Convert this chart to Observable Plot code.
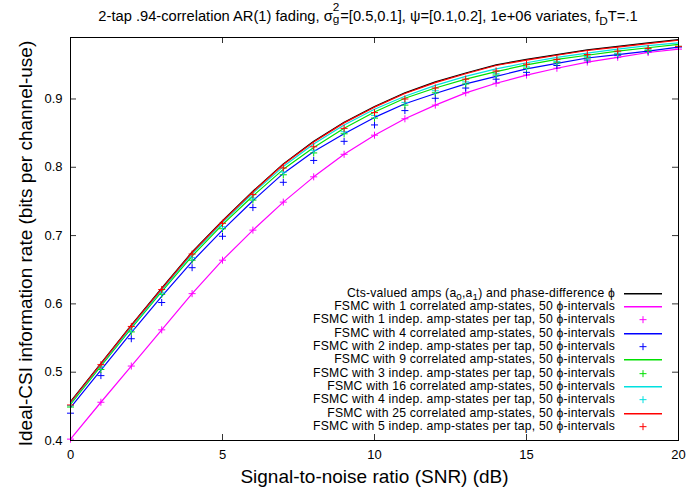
<!DOCTYPE html>
<html>
<head>
<meta charset="utf-8">
<script src="https://cdn.jsdelivr.net/npm/d3@7"></script>
<script src="https://cdn.jsdelivr.net/npm/@observablehq/plot@0.6"></script>
<style>
  body { margin: 0; background: #fff; }
  #wrap { position: relative; width: 699px; height: 489px; font-family: "Liberation Sans", Arial, Helvetica, sans-serif; color: #000; }
  #title { position: absolute; left: 64px; width: 608px; top: 9px; text-align: center; font-size: 14.7px; line-height: 15px; white-space: nowrap; }
  .sub { position: relative; top: 3.5px; font-size: 11.8px; line-height: 0; }
  .stack { position: relative; display: inline-block; width: 7.5px; height: 0; }
  .stack .hi { position: absolute; left: 0; bottom: 8px; font-size: 11.8px; line-height: 12px; }
  .stack .lo { position: absolute; left: 0; top: -8px; font-size: 11.8px; line-height: 12px; }
  #legend { position: absolute; left: 200px; top: 286.6px; width: 470px; height: 150px; font-size: 12.2px; letter-spacing: 0.2px; }
  .row { position: absolute; left: 0; height: 13.34px; line-height: 13.34px; white-space: nowrap; }
  .row .lab { position: absolute; left: 0; top: 0; width: 415px; text-align: right; }
  .row .lab .lsub { position: relative; top: 3px; font-size: 9.8px; line-height: 0; }
  .row svg { position: absolute; left: 424px; top: 0; display: block; }
</style>
</head>
<body>
<div id="wrap">
  <div id="chart"></div>
  <div id="title">2-tap .94-correlation AR(1) fading, σ<span class="stack"><span class="hi">2</span><span class="lo">g</span></span>=[0.5,0.1], ψ=[0.1,0.2], 1e+06 variates, f<span class="sub">D</span>T=.1</div>
  <div id="legend"></div>
</div>
<script>
// ---- data ----
const snr = [0, 1, 2, 3, 4, 5, 6, 7, 8, 9, 10, 11, 12, 13, 14, 15, 16, 17, 18, 19, 20];

const ctsAmps    = [0.457, 0.513, 0.569, 0.623, 0.676, 0.722, 0.765, 0.805, 0.838, 0.866, 0.889, 0.909, 0.925, 0.938, 0.950, 0.958, 0.965, 0.972, 0.977, 0.982, 0.987];
const fsmc1Corr  = [0.402, 0.456, 0.509, 0.562, 0.615, 0.664, 0.708, 0.749, 0.786, 0.819, 0.847, 0.871, 0.891, 0.909, 0.923, 0.935, 0.945, 0.954, 0.961, 0.968, 0.973];
const fsmc1Indep = [0.402, 0.456, 0.509, 0.562, 0.615, 0.664, 0.708, 0.749, 0.786, 0.819, 0.847, 0.871, 0.891, 0.909, 0.923, 0.935, 0.945, 0.954, 0.961, 0.968, 0.973];
const fsmc4Corr  = [0.448, 0.503, 0.558, 0.611, 0.662, 0.708, 0.751, 0.791, 0.823, 0.849, 0.873, 0.893, 0.908, 0.922, 0.933, 0.944, 0.952, 0.960, 0.965, 0.970, 0.976];
const fsmc2Indep = [0.440, 0.495, 0.549, 0.602, 0.653, 0.699, 0.741, 0.778, 0.810, 0.838, 0.862, 0.883, 0.901, 0.916, 0.929, 0.939, 0.949, 0.957, 0.964, 0.970, 0.976];
const fsmc9Corr  = [0.453, 0.509, 0.564, 0.618, 0.670, 0.716, 0.758, 0.797, 0.829, 0.857, 0.881, 0.901, 0.916, 0.929, 0.940, 0.950, 0.958, 0.964, 0.970, 0.975, 0.980];
const fsmc3Indep = [0.449, 0.504, 0.559, 0.614, 0.664, 0.710, 0.752, 0.789, 0.821, 0.849, 0.872, 0.891, 0.909, 0.922, 0.935, 0.945, 0.953, 0.960, 0.966, 0.971, 0.977];
const fsmc16Corr = [0.455, 0.511, 0.566, 0.620, 0.673, 0.719, 0.762, 0.801, 0.834, 0.862, 0.885, 0.904, 0.920, 0.933, 0.944, 0.953, 0.961, 0.967, 0.973, 0.978, 0.982];
const fsmc4Indep = [0.451, 0.508, 0.563, 0.617, 0.668, 0.713, 0.755, 0.793, 0.825, 0.852, 0.876, 0.895, 0.912, 0.925, 0.937, 0.947, 0.955, 0.962, 0.967, 0.972, 0.977];
const fsmc25Corr = [0.456, 0.512, 0.568, 0.622, 0.675, 0.721, 0.764, 0.804, 0.837, 0.865, 0.888, 0.908, 0.924, 0.937, 0.949, 0.957, 0.964, 0.971, 0.976, 0.981, 0.986];
const fsmc5Indep = [0.452, 0.511, 0.567, 0.621, 0.673, 0.718, 0.760, 0.799, 0.830, 0.857, 0.880, 0.900, 0.916, 0.929, 0.941, 0.951, 0.958, 0.965, 0.970, 0.974, 0.977];

const xTicks = [0, 5, 10, 15, 20];
const yTicks = [0.4, 0.5, 0.6, 0.7, 0.8, 0.9];

const seriesLabels = [
  "Cts-valued amps (a<span class=\"lsub\">0</span>,a<span class=\"lsub\">1</span>) and phase-difference ϕ",
  "FSMC with 1 correlated amp-states, 50 ϕ-intervals",
  "FSMC with 1 indep. amp-states per tap, 50 ϕ-intervals",
  "FSMC with 4 correlated amp-states, 50 ϕ-intervals",
  "FSMC with 2 indep. amp-states per tap, 50 ϕ-intervals",
  "FSMC with 9 correlated amp-states, 50 ϕ-intervals",
  "FSMC with 3 indep. amp-states per tap, 50 ϕ-intervals",
  "FSMC with 16 correlated amp-states, 50 ϕ-intervals",
  "FSMC with 4 indep. amp-states per tap, 50 ϕ-intervals",
  "FSMC with 25 correlated amp-states, 50 ϕ-intervals",
  "FSMC with 5 indep. amp-states per tap, 50 ϕ-intervals"
];
const seriesValues = [ctsAmps, fsmc1Corr, fsmc1Indep, fsmc4Corr, fsmc2Indep, fsmc9Corr, fsmc3Indep, fsmc16Corr, fsmc4Indep, fsmc25Corr, fsmc5Indep];
const seriesKinds  = ["line", "line", "point", "line", "point", "line", "point", "line", "point", "line", "point"];
const seriesColors = ["#000000", "#ff00ff", "#ff00ff", "#0000ff", "#0000ff", "#00e000", "#00e000", "#00e0e0", "#00e0e0", "#ff0000", "#ff0000"];

const xLabel = "Signal-to-noise ratio (SNR) (dB)";
const yLabel = "Ideal-CSI information rate (bits per channel-use)";

// ---- chart ----
const W = 699, H = 489, mL = 70, mR = 21, mT = 37, mB = 49;
const frameW = W - mL - mR, frameH = H - mT - mB, tickLen = 6;

const seriesMarks = seriesValues.map((vals, k) => {
  const rows = vals.map((v, i) => ({snr: snr[i], rate: v}));
  return seriesKinds[k] === "line"
    ? Plot.line(rows, {x: "snr", y: "rate", stroke: seriesColors[k], strokeWidth: 1.2})
    : Plot.dot(rows, {x: "snr", y: "rate", symbol: "plus", r: 2.4, stroke: seriesColors[k], strokeWidth: 1});
});

const innerX = xTicks.slice(1, -1), innerY = yTicks.slice(1);

const chart = Plot.plot({
  width: W, height: H,
  marginLeft: mL, marginRight: mR, marginTop: mT, marginBottom: mB,
  style: {fontFamily: "'Liberation Sans', Arial, Helvetica, sans-serif", background: "#fff", color: "#000"},
  x: {domain: [0, 20], label: null},
  y: {domain: [0.4, 0.99], label: null},
  marks: [
    Plot.ruleX(innerX, {x: d => d, insetTop: frameH - tickLen, stroke: "#333"}),
    Plot.ruleX(innerX, {x: d => d, insetBottom: frameH - tickLen, stroke: "#333"}),
    Plot.ruleY(innerY, {y: d => d, insetRight: frameW - tickLen, stroke: "#333"}),
    Plot.ruleY(innerY, {y: d => d, insetLeft: frameW - tickLen, stroke: "#333"}),
    ...seriesMarks,
    Plot.frame({stroke: "#000", strokeWidth: 1}),
    Plot.axisX({ticks: xTicks, tickSize: 0, tickPadding: 9, fontSize: 13, label: null}),
    Plot.axisY({ticks: yTicks, tickSize: 0, tickPadding: 8, fontSize: 13, tickFormat: d3.format(".1f"), label: null}),
    Plot.text([xLabel], {text: d => d, frameAnchor: "bottom", lineAnchor: "middle", textAnchor: "middle", dy: 36, fontSize: 19}),
    Plot.text([yLabel], {text: d => d, frameAnchor: "left", textAnchor: "middle", lineAnchor: "middle", rotate: -90, dx: -45, dy: 4.5, fontSize: 19})
  ]
});
document.getElementById("chart").appendChild(chart);

// ---- legend ----
const legend = document.getElementById("legend");
const rowH = 13.34;
seriesLabels.forEach((lab, k) => {
  const row = document.createElement("div");
  row.className = "row";
  row.style.top = (k * rowH) + "px";
  const sample = seriesKinds[k] === "line"
    ? `<line x1="0" x2="38" y1="6.67" y2="6.67" stroke="${seriesColors[k]}" stroke-width="1.5"/>`
    : `<path d="M15.5,6.67h7M19,3.17v7" stroke="${seriesColors[k]}" stroke-width="1" fill="none"/>`;
  row.innerHTML = `<span class="lab">${lab}</span><svg width="38" height="13.34">${sample}</svg>`;
  legend.appendChild(row);
});
</script>
</body>
</html>
